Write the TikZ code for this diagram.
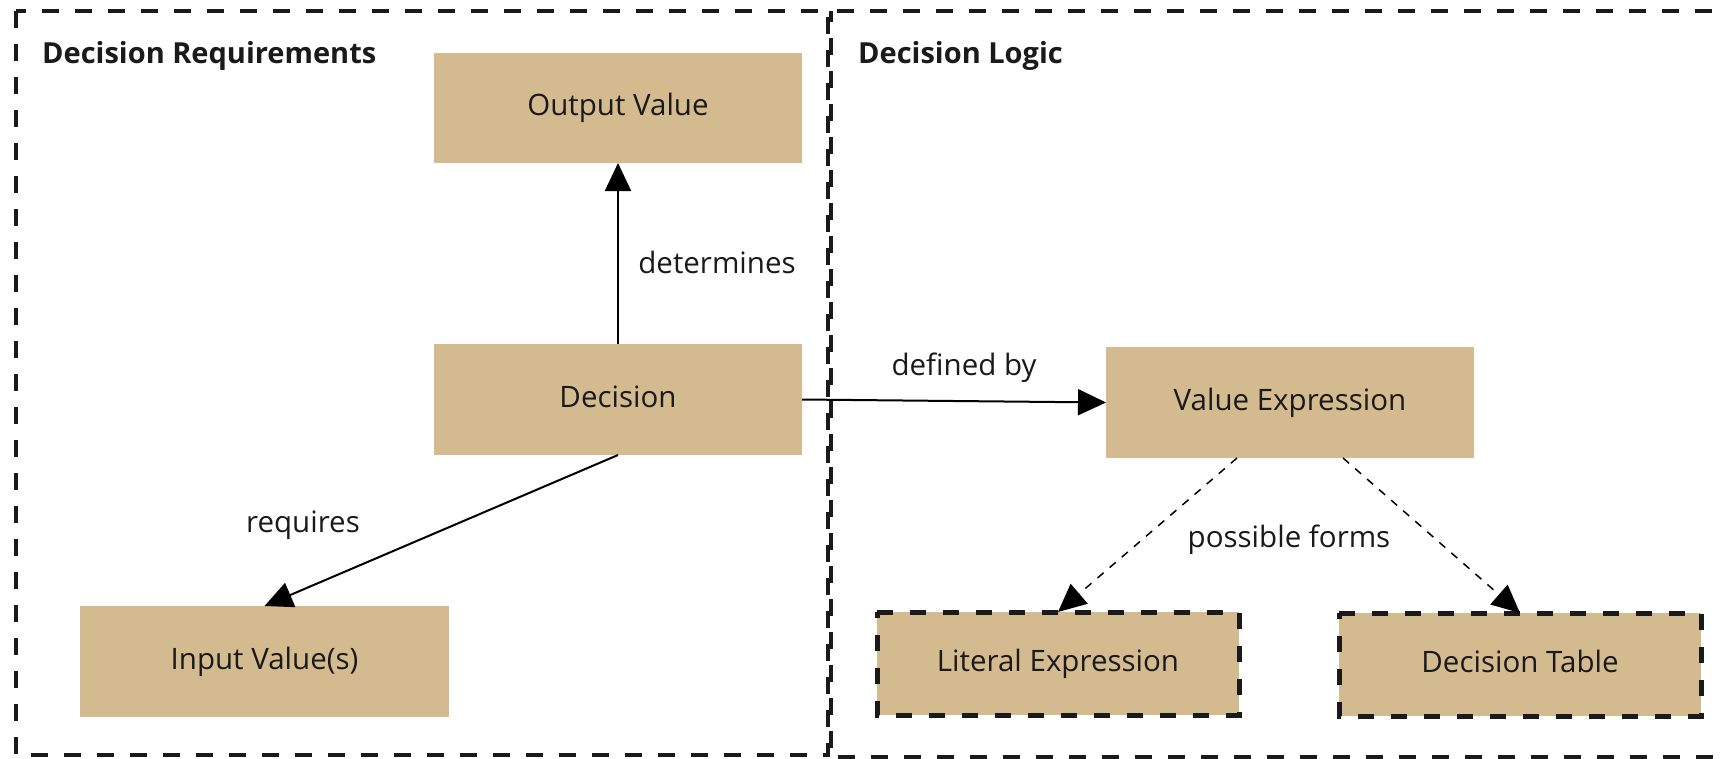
\documentclass[tikz,border=0pt]{standalone}
\usepackage{fontspec}
\setmainfont{Open Sans}
\usetikzlibrary{arrows.meta}
\definecolor{boxtan}{RGB}{212,186,143}
\definecolor{ink}{RGB}{26,26,26}
\tikzset{
  block/.style={fill=boxtan, draw=none, inner sep=0pt, outer sep=0pt,
    minimum width=368pt, minimum height=110pt, text=ink,
    text height=22pt, text depth=7pt,
    font=\fontsize{29.5pt}{34pt}\selectfont},
  formblock/.style={block, minimum width=362pt, minimum height=103pt},
  frame/.style={draw=ink, line width=4pt, dash pattern=on 17pt off 16pt},
  formedge/.style={draw=ink, line width=5pt, dash pattern=on 16pt off 17pt},
  heading/.style={anchor=base west, inner sep=0pt, text=ink,
    font=\fontsize{29pt}{33pt}\selectfont\bfseries},
  lbl/.style={anchor=base, inner sep=0pt, text=ink,
    font=\fontsize{29.5pt}{34pt}\selectfont},
  rel/.style={draw=black, line width=2pt, -{Triangle[length=28pt,width=26pt]}},
  option/.style={draw=black, line width=1.5pt, dash pattern=on 8pt off 8pt,
    -{Triangle[length=28pt,width=26pt]}},
}
\begin{document}
\begin{tikzpicture}[x=1pt, y=-1pt]
  \clip (0,0) rectangle (1724,758);
  \fill[white] (0,0) rectangle (1724,758);

  % the two areas of the model
  \draw[frame] (16,11) rectangle (828,755);
  \draw[frame, dash phase=6pt] (831,11) rectangle (1760,757);
  \node[heading] (reqtitle) at (42,63) {Decision Requirements};
  \node[heading] (logtitle) at (858,63) {Decision Logic};

  % requirement elements
  \node[block] (out) at (618,108) {Output Value};
  \node[block, minimum height=111pt] (dec) at (618,399.5) {Decision};
  \node[block, minimum width=369pt, minimum height=111pt] (inp) at (264.5,661.5) {Input Value(s)};

  % logic elements
  \node[block, minimum height=111pt] (ve) at (1290,402.5) {Value Expression};
  \node[formblock] (lit) at (1058,663.5) {Literal Expression};
  \node[formblock] (dt) at (1520,664.5) {Decision Table};
  \draw[formedge] (lit.north west) -- (lit.north east) -- (lit.south east)
    -- (lit.south west) -- cycle;
  \draw[formedge] (dt.north west) -- (dt.north east) -- (dt.south east)
    -- (dt.south west) -- cycle;

  % relations
  \draw[rel] (dec.north) -- (out.south);
  \draw[rel] (dec.south) -- (inp.north);
  \draw[rel] (dec.east) -- (ve.west);
  \draw[option] ([xshift=-53pt]ve.south) -- (lit.north);
  \draw[option] ([xshift=53pt]ve.south) -- (dt.north);

  \node[lbl] (ldet) at (717,273) {determines};
  \node[lbl] (lreq) at (303,532) {requires};
  \node[lbl] (ldef) at (964,375) {defined by};
  \node[lbl] (lpos) at (1289,547) {possible forms};
\end{tikzpicture}
\end{document}
